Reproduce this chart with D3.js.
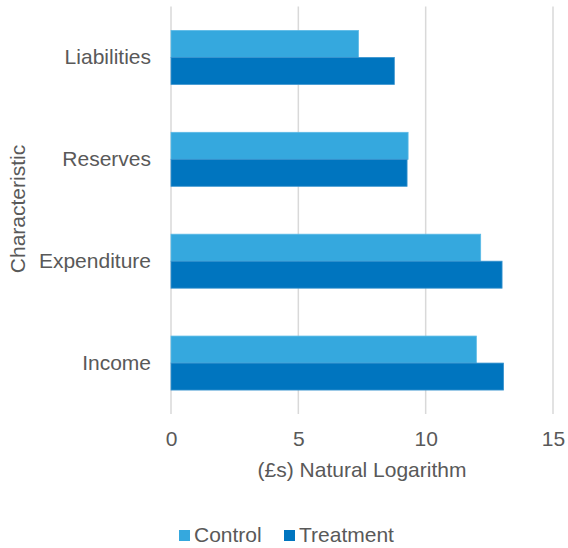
<!DOCTYPE html>
<html>
<head>
<meta charset="utf-8">
<script src="https://cdn.jsdelivr.net/npm/d3@7"></script>
<style>
  body { margin: 0; background: #fff; }
  text { font-family: "Liberation Sans", Arial, sans-serif; fill: #595959; }
</style>
</head>
<body>
<div id="chart"></div>
<script>
'use strict';
var categories = ['Liabilities', 'Reserves', 'Expenditure', 'Income'];
var seriesNames = ['Control', 'Treatment'];
var control = [7.36, 9.31, 12.16, 11.99];
var treatment = [8.77, 9.27, 13.0, 13.06];
var xTicks = [0, 5, 10, 15];

var colors = ['#35a8de', '#0075bf'];
var width = 568, height = 548;
var margin = {top: 6.5, right: 15, bottom: 134, left: 171};
var innerW = 553 - margin.left;
var innerH = height - margin.top - margin.bottom;
var fontSize = '21px';

var svg = d3.select('#chart').append('svg')
  .attr('width', width)
  .attr('height', height);

var g = svg.append('g')
  .attr('transform', 'translate(' + margin.left + ',' + margin.top + ')');

var x = d3.scaleLinear().domain([0, 15]).range([0, innerW]);
var y = d3.scaleBand().domain(categories).range([0, innerH])
  .paddingInner(0.47).paddingOuter(0.235);
var ySub = d3.scaleBand().domain(seriesNames).range([0, y.bandwidth()]);

// gridlines
g.selectAll('.grid')
  .data(xTicks)
  .enter().append('line')
  .attr('x1', function(d) { return x(d); })
  .attr('x2', function(d) { return x(d); })
  .attr('y1', 0)
  .attr('y2', innerH)
  .style('stroke', '#d9d9d9')
  .style('stroke-width', 1.5);

// bars
var data = categories.map(function(c, i) {
  return {cat: c, values: [control[i], treatment[i]]};
});
var groups = g.selectAll('.group')
  .data(data)
  .enter().append('g')
  .attr('transform', function(d) { return 'translate(0,' + y(d.cat) + ')'; });

groups.selectAll('rect')
  .data(function(d) {
    return d.values.map(function(v, j) { return {name: seriesNames[j], value: v, j: j}; });
  })
  .enter().append('rect')
  .attr('x', x(0))
  .attr('y', function(d) { return ySub(d.name); })
  .attr('width', function(d) { return x(d.value) - x(0); })
  .attr('height', ySub.bandwidth())
  .style('fill', function(d) { return colors[d.j]; })
  .style('stroke', function(d) { return d.j === 0 ? '#5bbae6' : '#3b95cf'; })
  .style('stroke-width', 0.8);

// x axis labels
var xAxis = g.append('g')
  .attr('transform', 'translate(0,' + innerH + ')')
  .call(d3.axisBottom(x).tickValues(xTicks).tickSize(0).tickPadding(17));
xAxis.select('.domain').remove();
xAxis.selectAll('text')
  .style('font-size', fontSize)
  .style('fill', '#595959')
  .style('font-family', '"Liberation Sans", Arial, sans-serif');

// y axis labels
var yAxis = g.append('g')
  .call(d3.axisLeft(y).tickSize(0).tickPadding(20));
yAxis.select('.domain').remove();
yAxis.selectAll('text')
  .style('font-size', fontSize)
  .style('fill', '#595959')
  .style('font-family', '"Liberation Sans", Arial, sans-serif');

// axis titles
svg.append('text')
  .attr('x', margin.left + innerW / 2)
  .attr('y', 477)
  .attr('text-anchor', 'middle')
  .style('font-size', fontSize)
  .text('(£s) Natural Logarithm');

svg.append('text')
  .attr('transform', 'translate(25,209) rotate(-90)')
  .attr('text-anchor', 'middle')
  .style('font-size', fontSize)
  .text('Characteristic');

// legend
var legend = svg.append('g').attr('transform', 'translate(179,542)');
var legendX = [0, 105];
seriesNames.forEach(function(name, i) {
  var lg = legend.append('g').attr('transform', 'translate(' + legendX[i] + ',0)');
  lg.append('rect')
    .attr('x', 0)
    .attr('y', -12)
    .attr('width', 11)
    .attr('height', 11)
    .style('fill', colors[i]);
  lg.append('text')
    .attr('x', 15)
    .attr('y', 0)
    .style('font-size', fontSize)
    .text(name);
});
</script>
</body>
</html>
